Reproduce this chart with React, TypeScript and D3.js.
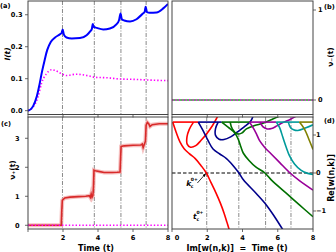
import React from 'react';
import * as d3 from 'd3';

type Pt = [number, number];

// critical times (vertical dash-dot lines)
const criticalTimes = [1.97, 3.79, 5.31, 6.75];

// (a) current I(t): solid blue and dotted magenta
const currentSolid: Pt[] = [
  [0, 0], [0.15, 0.004], [0.3, 0.015], [0.5, 0.044], [0.65, 0.08], [0.8, 0.122], [0.95, 0.158],
  [1.1, 0.19], [1.3, 0.215], [1.55, 0.229], [1.8, 0.238], [1.92, 0.243], [1.98, 0.254], [2.05, 0.238],
  [2.2, 0.229], [2.5, 0.226], [2.97, 0.227], [3.35, 0.236], [3.54, 0.247], [3.65, 0.256], [3.7, 0.271],
  [3.76, 0.262], [3.93, 0.259], [4.3, 0.254], [4.68, 0.257], [5.05, 0.27], [5.2, 0.283], [5.29, 0.304],
  [5.36, 0.286], [5.5, 0.282], [5.83, 0.279], [6.2, 0.286], [6.55, 0.303], [6.67, 0.31], [6.72, 0.325],
  [6.8, 0.308], [6.95, 0.306], [7.35, 0.307], [7.73, 0.32], [8, 0.334],
];
const currentDotted: Pt[] = [
  [0, 0], [0.3, 0.012], [0.58, 0.044], [0.77, 0.085], [1.05, 0.115], [1.35, 0.128], [1.55, 0.126],
  [1.83, 0.118], [2.2, 0.11], [2.77, 0.114], [3.35, 0.11], [3.9, 0.104], [4.5, 0.103], [5.25, 0.099],
  [6.0, 0.098], [6.77, 0.096], [8, 0.094],
];

// (b) nu_-(t)
const nuMinus: Pt[] = [[0, 0], [8, 0]];

// (c) nu_+(t)
const nuPlus: Pt[] = [
  [0, 0], [1.9, 0], [1.93, 0.5], [1.96, 0.86], [2.1, 0.94], [2.4, 0.97], [2.9, 0.99], [3.3, 1.0],
  [3.5, 1.02], [3.56, 0.96], [3.61, 1.08], [3.66, 0.97], [3.71, 1.03], [3.74, 1.3], [3.77, 1.9],
  [3.85, 1.88], [4.1, 1.85], [4.35, 1.82], [4.8, 1.82], [5.1, 1.83], [5.26, 1.84], [5.29, 2.3],
  [5.32, 2.72], [5.5, 2.74], [6.0, 2.76], [6.45, 2.77], [6.53, 2.8], [6.58, 2.68], [6.64, 2.78],
  [6.71, 2.9], [6.75, 3.45], [6.82, 3.55], [6.9, 3.5], [6.97, 3.41], [7.1, 3.47], [7.5, 3.5], [8, 3.5],
];
const nuPlusZero: Pt[] = [[0, 0], [8, 0]];

// (d) lines of zeros w(n,k): Im (time) vs Re
const flatRe = 1.34;
const lineColors = ['#ff0000', '#00008b', '#007000', '#990099', '#009a9a', '#808000'];
const flatSpans: Pt[] = [[0.04, 1.49], [1.49, 2.82], [2.82, 4.4], [4.4, 5.92], [5.92, 7.23], [7.23, 8]];
const redMain: Pt[] = [[0.04, 1.34], [0.23, 1.08], [0.45, 0.82], [0.69, 0.64], [0.98, 0.51], [1.32, 0.38], [1.64, 0.2], [1.95, 0], [2.2, -0.24], [2.5, -0.53], [2.75, -0.8], [2.95, -1.05], [3.12, -1.3], [3.25, -1.5]];
const redLoop: Pt[] = [[1.22, 1.34], [0.98, 1.15], [0.85, 0.95], [0.86, 0.76], [1.05, 0.68], [1.35, 0.72], [1.65, 0.86], [1.98, 1.04], [2.3, 1.25], [2.6, 1.5]];
const blueMain: Pt[] = [[1.49, 1.34], [1.77, 1.11], [2.05, 0.85], [2.33, 0.63], [2.71, 0.5], [3.09, 0.38], [3.46, 0.2], [3.8, 0], [4.05, -0.18], [4.78, -0.54], [5.35, -0.84], [5.82, -1.15], [6.3, -1.5]];
const blueLoop: Pt[] = [[2.62, 1.34], [2.47, 1.17], [2.47, 0.99], [2.67, 0.89], [2.95, 0.88], [3.33, 0.95], [3.71, 1.08], [4.08, 1.21], [4.46, 1.36], [4.6, 1.5]];
const greenMain: Pt[] = [[2.82, 1.34], [3.2, 1.2], [3.55, 1.06], [3.75, 0.9], [3.9, 0.7], [4.05, 0.52], [4.37, 0.33], [4.75, 0.16], [5.27, 0], [5.63, -0.18], [6.48, -0.53], [7.23, -0.84], [8, -1.15]];
const greenLoop: Pt[] = [[3.3, 1.34], [3.42, 1.16], [3.7, 1.03], [3.95, 1.05], [4.22, 1.16], [4.69, 1.25], [5.16, 1.31], [5.72, 1.42], [6.1, 1.5]];
const purpleMain: Pt[] = [[4.4, 1.34], [4.59, 1.2], [4.79, 1.03], [4.97, 0.85], [5.25, 0.68], [5.63, 0.5], [6.1, 0.28], [6.7, 0], [7.23, -0.2], [8, -0.45]];
const purpleLoop: Pt[] = [[5.0, 1.34], [5.15, 1.22], [5.4, 1.16], [5.65, 1.17], [5.95, 1.24], [6.29, 1.33], [6.7, 1.41], [7.05, 1.5]];
const tealMain: Pt[] = [[5.92, 1.34], [6.1, 1.2], [6.29, 0.94], [6.48, 0.68], [6.67, 0.45], [6.95, 0.24], [7.33, 0.07], [7.7, -0.01], [8, -0.04]];
const tealLoop: Pt[] = [[6.6, 1.34], [6.72, 1.2], [6.9, 1.14], [7.14, 1.12], [7.6, 1.19], [8, 1.27]];
const oliveMain: Pt[] = [[7.23, 1.34], [7.51, 1.16], [7.8, 0.85], [8, 0.62]];
const zeroBranches: Pt[][][] = [
  [redMain, redLoop], [blueMain, blueLoop], [greenMain, greenLoop],
  [purpleMain, purpleLoop], [tealMain, tealLoop], [oliveMain],
];

const ticksX = [0, 2, 4, 6, 8];
const ticksA = [0, 0.1, 0.2, 0.3];
const ticksB = [0, 1];
const ticksC = [0, 1, 2, 3];
const ticksD = [-1, 0, 1];

// panel boxes
const leftX = [28, 168];
const rightX = [172, 313];
const topY = [1, 114.5];
const botY = [117, 229];

const xA = d3.scaleLinear().domain([0, 8]).range(leftX);
const xB = d3.scaleLinear().domain([0, 8]).range(rightX);
const yA = d3.scaleLinear().domain([-0.012, 0.343]).range([topY[1], topY[0]]);
const yB = d3.scaleLinear().domain([-0.161, 1.1]).range([topY[1], topY[0]]);
const yC = d3.scaleLinear().domain([-0.128, 3.734]).range([botY[1], botY[0]]);
const yD = d3.scaleLinear().domain([-1.474, 1.474]).range([botY[1], botY[0]]);

const FONT = 'DejaVu Sans';
const AX = '#444';
const GRID = '#8a8a8a';

const mk = (x: any, y: any, curve: any = d3.curveMonotoneX) =>
  d3.line<Pt>().x(d => x(d[0])).y(d => y(d[1])).curve(curve);

const Box = ({ xs, ys }: { xs: number[]; ys: number[] }) => (
  <rect x={xs[0]} y={ys[0]} width={xs[1] - xs[0]} height={ys[1] - ys[0]} fill="none" stroke={AX} strokeWidth={1} />
);

const XTicks = ({ x, y0, labels, shift0 = 0 }: any) => (
  <g>
    {ticksX.map(t => (
      <g key={t}>
        <line x1={x(t)} x2={x(t)} y1={y0} y2={y0 + 3} stroke={AX} strokeWidth={0.8} />
        {labels && labels.includes(t) && (
          <text x={x(t) + (t === 0 ? shift0 : 0)} y={239.5} textAnchor="middle" fontSize={6.6} fontWeight="bold" fontFamily={FONT}>{t}</text>
        )}
      </g>
    ))}
  </g>
);

const YTicks = ({ y, ticks, side, xEdge, fmt, labelX }: any) => (
  <g>
    {ticks.map((v: number) => (
      <g key={v}>
        <line x1={xEdge} x2={side === 'left' ? xEdge - 3 : xEdge + 3} y1={y(v)} y2={y(v)} stroke={AX} strokeWidth={0.8} />
        <text x={labelX} y={y(v) + 2.4} textAnchor={side === 'left' ? 'end' : 'start'} fontSize={6.6} fontWeight="bold" fontFamily={FONT}>{fmt(v)}</text>
      </g>
    ))}
  </g>
);

const VLines = ({ x, ys }: any) => (
  <g>
    {criticalTimes.map(t => (
      <line key={t} x1={x(t)} x2={x(t)} y1={ys[0]} y2={ys[1]} stroke={GRID} strokeWidth={1} strokeDasharray="4,1.5,1,1.5" />
    ))}
  </g>
);

export default function App() {
  const lineA = mk(xA, yA);
  const lineB = mk(xB, yB);
  const lineC = mk(xA, yC, d3.curveLinear);
  const lineD = mk(xB, yD, d3.curveCatmullRom.alpha(0.5));
  const tip: Pt = [xB(redMain[7][0]), yD(0)];

  return (
    <svg width={336} height={252} style={{ position: 'fixed', left: 0, top: 0, background: '#fff' }} fontFamily={FONT}>
      <defs>
        <clipPath id="clipA"><rect x={leftX[0]} y={topY[0]} width={leftX[1] - leftX[0]} height={topY[1] - topY[0]} /></clipPath>
        <clipPath id="clipC"><rect x={leftX[0]} y={botY[0]} width={leftX[1] - leftX[0]} height={botY[1] - botY[0]} /></clipPath>
        <clipPath id="clipD"><rect x={rightX[0]} y={botY[0]} width={rightX[1] - rightX[0]} height={botY[1] - botY[0]} /></clipPath>
        <marker id="arr" viewBox="0 0 6 6" refX={5.5} refY={3} markerWidth={4} markerHeight={4} orient="auto">
          <path d="M0,0 L6,3 L0,6 z" fill="#000" />
        </marker>
      </defs>

      {/* (a) */}
      <VLines x={xA} ys={topY} />
      <g clipPath="url(#clipA)">
        <path d={lineA(currentDotted) || ''} fill="none" stroke="#ff00ff" strokeWidth={1.6} strokeDasharray="1.4,2" />
        <path d={lineA(currentSolid) || ''} fill="none" stroke="#0000ff" strokeWidth={2} />
      </g>
      <Box xs={leftX} ys={topY} />
      <YTicks y={yA} ticks={ticksA} side="left" xEdge={leftX[0]} labelX={22.5} fmt={(v: number) => v.toFixed(1)} />
      <XTicks x={xA} y0={topY[1]} />
      <text transform="translate(9.5,54) rotate(-90)" textAnchor="middle" fontSize={7.5} fontWeight="bold" fontStyle="italic">I(t)</text>
      <text x={0} y={7.5} fontSize={6.6} fontWeight="bold">(a)</text>

      {/* (b) */}
      <path d={lineB(nuMinus) || ''} fill="none" stroke="#22aa22" strokeWidth={1.6} />
      <path d={lineB(nuMinus) || ''} fill="none" stroke="#ff00ff" strokeWidth={1.4} strokeDasharray="1.4,2" />
      <Box xs={rightX} ys={topY} />
      <YTicks y={yB} ticks={ticksB} side="right" xEdge={rightX[1]} labelX={318} fmt={(v: number) => String(v)} />
      <XTicks x={xB} y0={topY[1]} />
      <text transform="translate(333,57) rotate(-90)" textAnchor="middle" fontSize={7.5} fontWeight="bold">ν₋(t)</text>
      <text x={324} y={8.5} fontSize={6.6} fontWeight="bold">(b)</text>

      {/* (c) */}
      <VLines x={xA} ys={botY} />
      <g clipPath="url(#clipC)">
        <path d={lineC(nuPlus) || ''} fill="none" stroke="#f2a5a5" strokeWidth={4} strokeOpacity={0.7} />
        <path d={lineC(nuPlus) || ''} fill="none" stroke="#d82a2a" strokeWidth={1.6} />
        <path d={lineC(nuPlusZero) || ''} fill="none" stroke="#ff00ff" strokeWidth={1.4} strokeDasharray="1.4,2" />
      </g>
      <Box xs={leftX} ys={botY} />
      <YTicks y={yC} ticks={ticksC} side="left" xEdge={leftX[0]} labelX={19.5} fmt={(v: number) => String(v)} />
      <XTicks x={xA} y0={botY[1]} labels={[2, 4, 6, 8]} />
      <text transform="translate(14.5,170) rotate(-90)" textAnchor="middle" fontSize={7.5} fontWeight="bold">ν₊(t)</text>
      <text x={1} y={126} fontSize={6.6} fontWeight="bold">(c)</text>
      <text x={96} y={250.5} textAnchor="middle" fontSize={8} fontWeight="bold">Time (t)</text>

      {/* (d) */}
      <VLines x={xB} ys={botY} />
      <line x1={rightX[0]} x2={rightX[1]} y1={yD(0)} y2={yD(0)} stroke="#000" strokeWidth={1} strokeDasharray="3.5,2" />
      <g clipPath="url(#clipD)">
        {zeroBranches.map((branches, i) => (
          <g key={i}>
            <line x1={xB(flatSpans[i][0])} x2={xB(flatSpans[i][1])} y1={yD(flatRe)} y2={yD(flatRe)} stroke={lineColors[i]} strokeWidth={1.6} />
            {branches.map((b, j) => (
              <path key={j} d={lineD(b) || ''} fill="none" stroke={lineColors[i]} strokeWidth={1.6} />
            ))}
          </g>
        ))}
      </g>
      <Box xs={rightX} ys={botY} />
      <YTicks y={yD} ticks={ticksD} side="right" xEdge={rightX[1]} labelX={316} fmt={(v: number) => (v < 0 ? '−' + Math.abs(v) : String(v))} />
      <XTicks x={xB} y0={botY[1]} labels={ticksX} shift0={5} />
      <text transform="translate(334,178) rotate(-90)" textAnchor="middle" fontSize={8} fontWeight="bold">Re[w(n,k)]</text>
      <text x={324} y={122.5} fontSize={6.6} fontWeight="bold">(d)</text>
      <text x={237} y={250.5} textAnchor="middle" fontSize={8} fontWeight="bold" style={{ whiteSpace: 'pre' }}>Im[w(n,k)]  =  Time (t)</text>

      <line x1={tip[0] - 9} x2={tip[0] - 0.8} y1={tip[1] + 10} y2={tip[1] + 0.8} stroke="#000" strokeWidth={0.8} markerEnd="url(#arr)" />
      <text x={tip[0] - 20} y={tip[1] + 13} fontSize={7.5} fontWeight="bold" fontStyle="italic">k</text>
      <text x={tip[0] - 15.5} y={tip[1] + 15} fontSize={4.5} fontWeight="bold">c</text>
      <text x={tip[0] - 15.5} y={tip[1] + 7.5} fontSize={4.5} fontWeight="bold">0+</text>
      <text x={xB(1.19)} y={yD(-1.2)} fontSize={7.5} fontWeight="bold" fontStyle="italic">t</text>
      <text x={xB(1.19) + 3.5} y={yD(-1.2) + 2} fontSize={4.5} fontWeight="bold">c</text>
      <text x={xB(1.19) + 3.5} y={yD(-1.2) - 5} fontSize={4.5} fontWeight="bold">0+</text>
    </svg>
  );
}
